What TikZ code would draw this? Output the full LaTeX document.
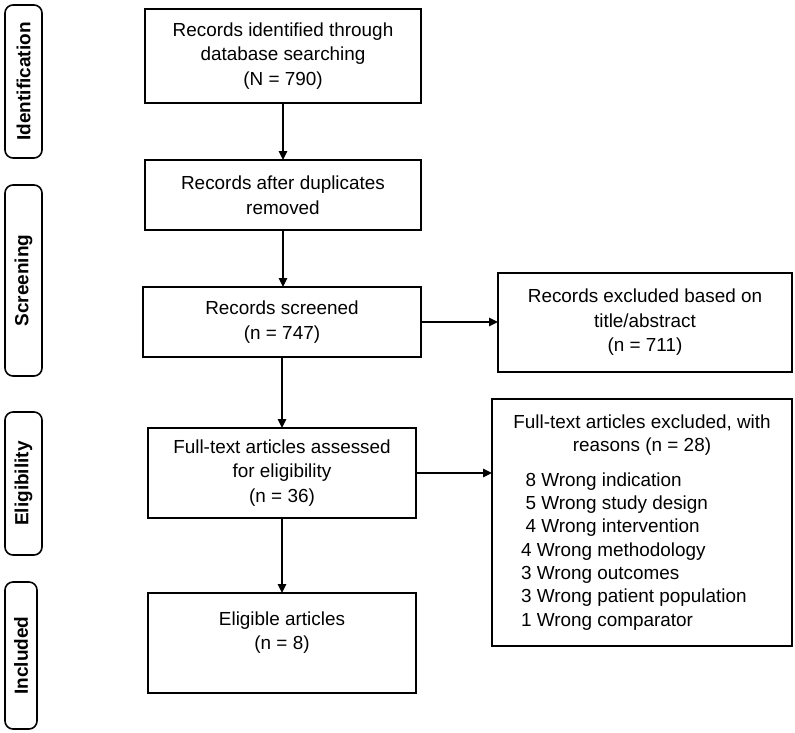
\documentclass[tikz,border=0pt]{standalone}
\usepackage{fontspec}
\setmainfont{Liberation Sans}
\usetikzlibrary{arrows.meta}
\begin{document}
\begin{tikzpicture}[x=1pt,y=-1pt,
  box/.style={draw=black, line width=1.6pt, inner sep=0pt, outer sep=0pt, align=center,
    font=\fontsize{18.9}{24.5}\selectfont},
  phase/.style={draw=black, line width=1.6pt, rounded corners=8pt, rotate=90, inner sep=0pt,
    outer sep=0pt, font=\fontsize{19}{22}\selectfont\bfseries},
  conn/.style={line width=1.5pt, -{Triangle[length=9pt,width=8.5pt]}}]
\useasboundingbox (0,0) rectangle (795,732);
% phase labels
\node[phase, minimum width=153pt, minimum height=37pt] (pid) at (23.5,81.5) {Identification};
\node[phase, minimum width=191pt, minimum height=37pt] (psc) at (23.5,280.5) {Screening};
\node[phase, minimum width=143pt, minimum height=37pt] (pel) at (23.5,483.5) {Eligibility};
\node[phase, minimum width=147pt, minimum height=32pt] (pin) at (21,655.5) {Included};
% main boxes
\node[box, minimum width=276pt, minimum height=94pt] (b1) at (283,56)
  {Records identified through\\database searching\\(N = 790)};
\node[box, minimum width=276pt, minimum height=70pt] (b2) at (283,195)
  {Records after duplicates\\removed};
\node[box, minimum width=278pt, minimum height=70pt] (b3) at (282,322)
  {Records screened\\(n = 747)};
\node[box, minimum width=268pt, minimum height=90pt] (b4) at (282,473)
  {Full-text articles assessed\\for eligibility\\(n = 36)};
\node[box, minimum width=268pt, minimum height=100pt] (b5) at (282,643)
  {Eligible articles\\(n = 8)\\\mbox{}};
% exclusion boxes
\node[box, minimum width=294pt, minimum height=99pt] (e1) at (645,322.5)
  {Records excluded based on\\title/abstract\\(n = 711)};
\node[box, minimum width=300pt, minimum height=247pt, font=\fontsize{18.9}{23.3}\selectfont] (e2) at (642,522.5)
  {Full-text articles excluded, with\\reasons (n = 28)\\[11pt]
   \makebox[242pt][l]{\hspace{4.5pt}8 Wrong indication}\\
   \makebox[242pt][l]{\hspace{4.5pt}5 Wrong study design}\\
   \makebox[242pt][l]{\hspace{4.5pt}4 Wrong intervention}\\
   \makebox[242pt][l]{4 Wrong methodology}\\
   \makebox[242pt][l]{3 Wrong outcomes}\\
   \makebox[242pt][l]{3 Wrong patient population}\\
   \makebox[242pt][l]{1 Wrong comparator}};
% connectors
\draw[conn] (b1.south) -- (b1.south |- b2.north);
\draw[conn] (b2.south) -- (b2.south |- b3.north);
\draw[conn] (b3.south) -- (b3.south |- b4.north);
\draw[conn] (b4.south) -- (b4.south |- b5.north);
\draw[conn] (b3.east) -- (b3.east -| e1.west);
\draw[conn] (b4.east) -- (b4.east -| e2.west);
\end{tikzpicture}
\end{document}
